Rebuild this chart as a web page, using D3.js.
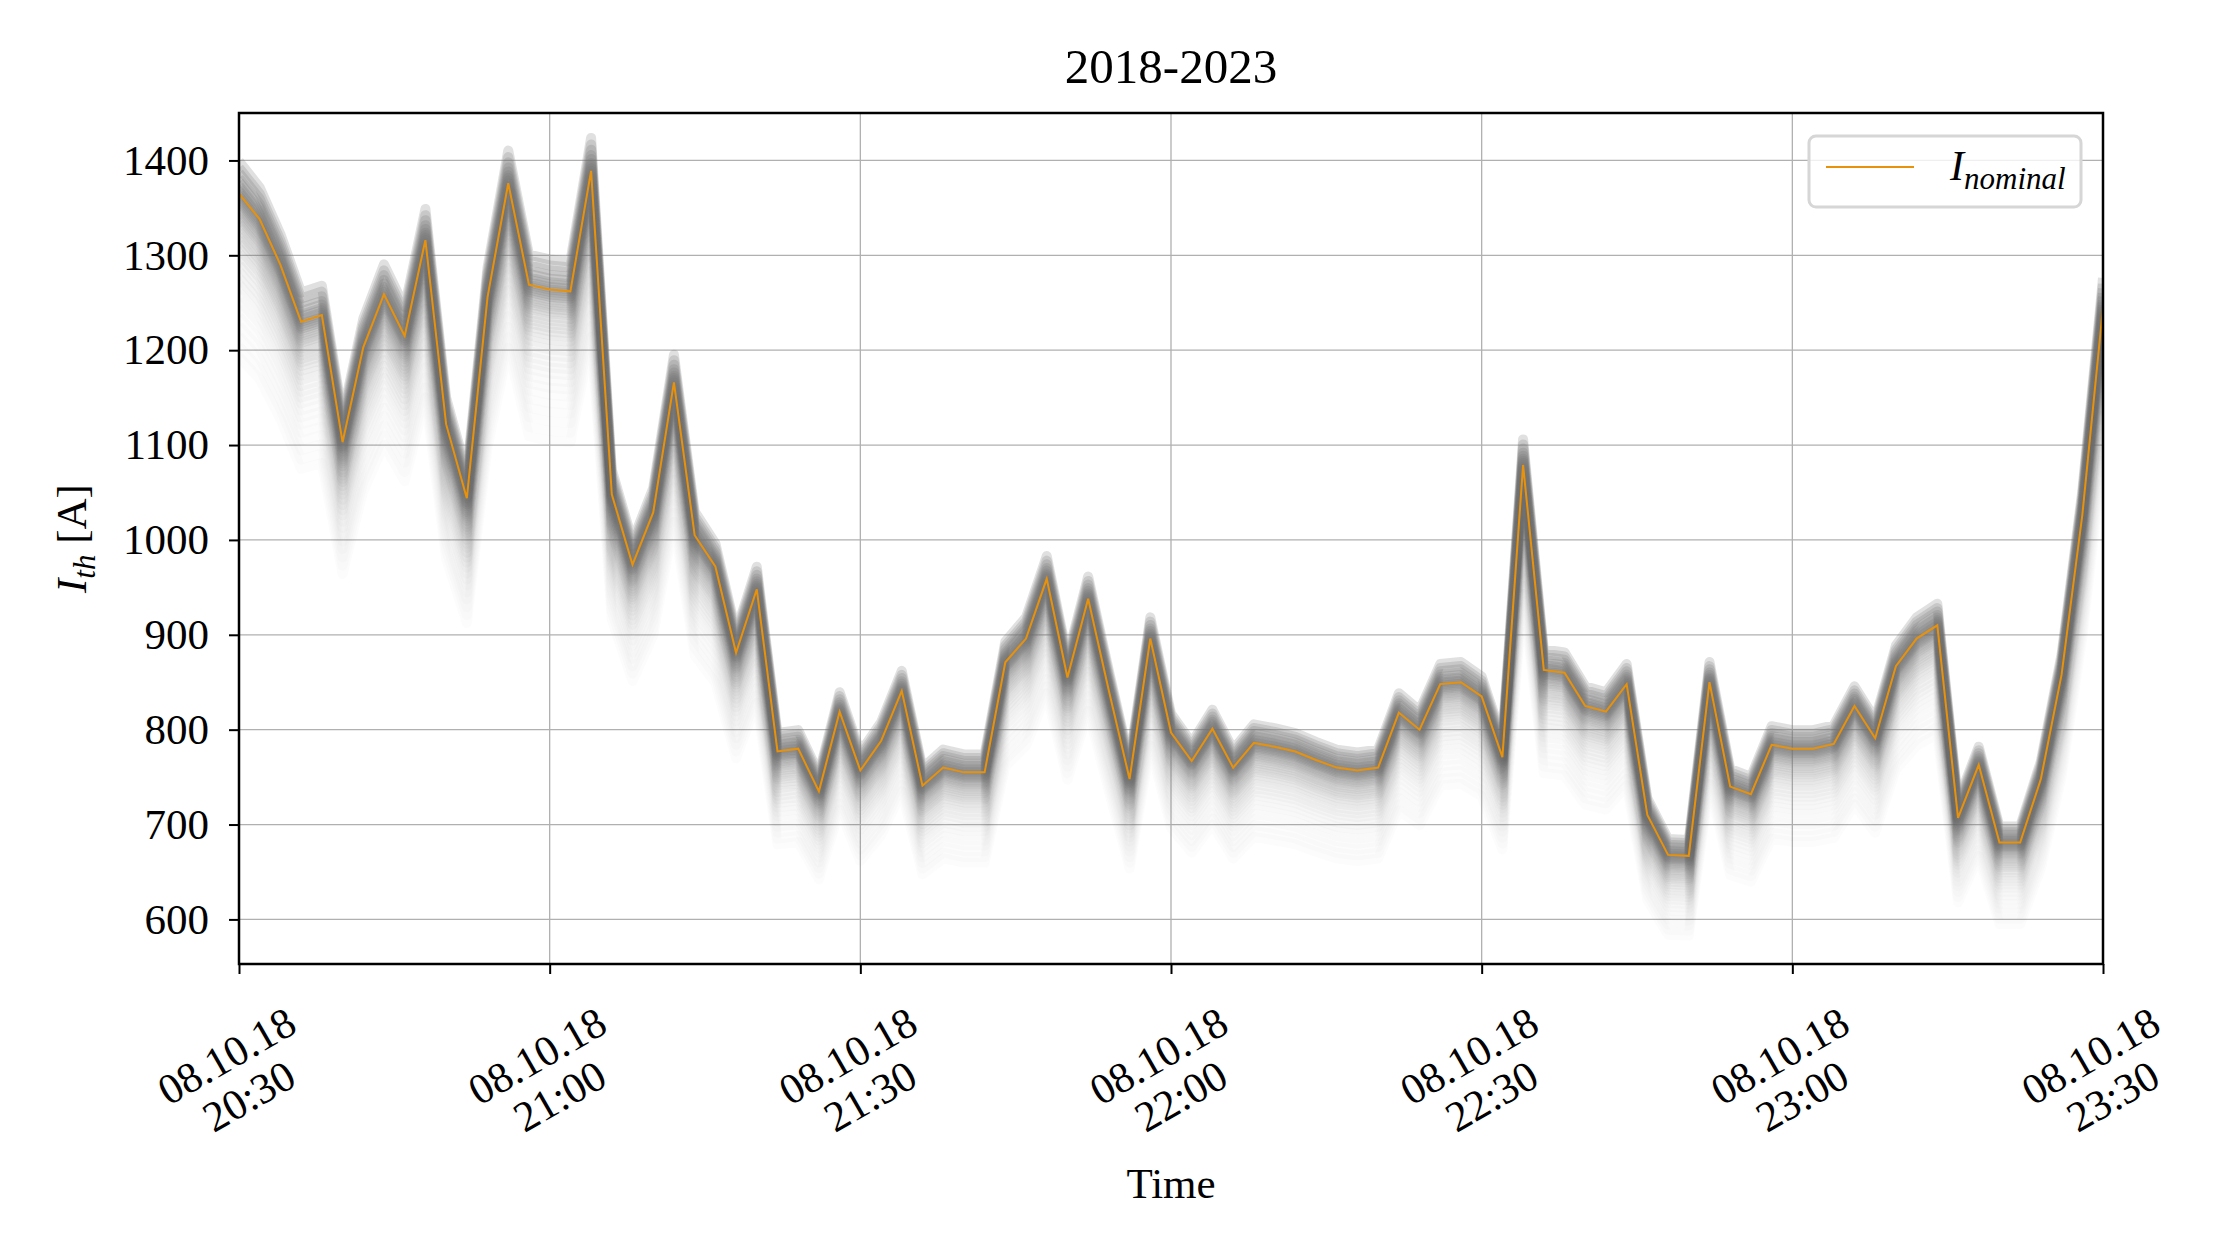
<!DOCTYPE html>
<html>
<head>
<meta charset="utf-8">
<script src="https://cdn.jsdelivr.net/npm/d3@7"></script>
<style>
  body { margin: 0; background: #fff; }
  text { font-family: "Liberation Serif", "DejaVu Serif", serif; }
</style>
</head>
<body>
<div id="chart"></div>
<script>
// nominal thermal current, one value every 2 minutes from 20:30 to 23:30
const nominal = [1365, 1338, 1290, 1230, 1237, 1103, 1203, 1259, 1215, 1316,
  1122, 1044, 1256, 1376, 1269, 1264, 1262, 1389, 1048, 974,
  1029, 1166, 1005, 972, 881, 948, 777, 780, 735, 819,
  757, 788, 841, 741, 760, 755, 755, 871, 896, 959,
  855, 938, 841, 748, 896, 797, 767, 801, 760, 786,
  782, 777, 768, 760, 757, 760, 818, 800, 848, 850,
  835, 771, 1079, 863, 860, 825, 819, 848, 710, 668,
  667, 850, 740, 732, 784, 780, 780, 785, 825, 791,
  867, 896, 910, 707, 763, 681, 681, 748, 858, 1026, 1245];
// relative level of each weather-year scenario compared to nominal
const scenarioScale = [1.025, 1.02, 1.016, 1.012, 1.009, 1.006, 1.004, 1.002, 1.0, 0.998,
  0.996, 0.994, 0.992, 0.99, 0.988, 0.986, 0.984, 0.982, 0.98, 0.977,
  0.974, 0.971, 0.968, 0.965, 0.962, 0.958, 0.954, 0.95, 0.945, 0.94,
  0.935, 0.93, 0.924, 0.918, 0.912, 0.905, 0.898, 0.89, 0.882, 0.874];
const xTicks = ["20:30", "21:00", "21:30", "22:00", "22:30", "23:00", "23:30"];
const tickDate = "08.10.18";

const W = 2240, H = 1260;
const margin = { top: 113, right: 2240 - 2103, bottom: 1260 - 964, left: 239 };
const width = W - margin.left - margin.right,
      height = H - margin.top - margin.bottom;
const FS = 43;

const parse = d3.timeParse("%H:%M");
const t0 = parse("20:30");
const times = nominal.map((d, i) => new Date(t0.getTime() + i * 2 * 60000));

const svgRoot = d3.select("#chart").append("svg")
  .attr("width", W).attr("height", H);
const svg = svgRoot.append("g")
  .attr("transform", `translate(${margin.left},${margin.top})`);

const x = d3.scaleTime().domain([t0, parse("23:30")]).range([0, width]);
const y = d3.scaleLinear().domain([553, 1450]).range([height, 0]);
const tickDates = xTicks.map(parse);
const yTicks = d3.range(600, 1401, 100);

// grid
svg.append("g").selectAll("line").data(yTicks)
  .join("line")
  .attr("x1", 0).attr("x2", width)
  .attr("y1", d => y(d)).attr("y2", d => y(d))
  .attr("stroke", "#b0b0b0").attr("stroke-width", 1.3);
svg.append("g").selectAll("line").data(tickDates)
  .join("line")
  .attr("x1", d => x(d)).attr("x2", d => x(d))
  .attr("y1", 0).attr("y2", height)
  .attr("stroke", "#b0b0b0").attr("stroke-width", 1.3);

const line = d3.line().x((d, i) => x(times[i])).y(d => y(d));

svg.append("defs").append("clipPath").attr("id", "clip")
  .append("rect").attr("width", width).attr("height", height);
const plot = svg.append("g").attr("clip-path", "url(#clip)");

// scenario band
plot.selectAll("path.scen").data(scenarioScale)
  .join("path")
  .attr("class", "scen")
  .attr("d", s => line(nominal.map(v => v * s)))
  .attr("fill", "none")
  .attr("stroke", "#707070")
  .attr("stroke-width", 10)
  .attr("stroke-linejoin", "round")
  .attr("opacity", (s, i) => i < 12 ? 0.22 : Math.max(0.02, 0.12 - (i - 12) * 0.0045));

plot.append("path")
  .attr("d", line(nominal))
  .attr("fill", "none")
  .attr("stroke", "#e8920b")
  .attr("stroke-width", 2);

// axes
const yAxis = svg.append("g")
  .call(d3.axisLeft(y).tickValues(yTicks).tickFormat(d3.format("d")).tickSize(10).tickPadding(20));
const xAxis = svg.append("g").attr("transform", `translate(0,${height})`)
  .call(d3.axisBottom(x).tickValues(tickDates).tickSize(10).tickFormat(""));
[yAxis, xAxis].forEach(a => {
  a.selectAll("line").attr("stroke", "#000").attr("stroke-width", 2);
  a.select(".domain").remove();
  a.selectAll("text").attr("font-size", FS).attr("font-family", "Liberation Serif").attr("fill", "#000");
});
svg.append("rect").attr("width", width).attr("height", height)
  .attr("fill", "none").attr("stroke", "#000").attr("stroke-width", 2.5);

// rotated x tick labels
tickDates.forEach((d, i) => {
  const g = svg.append("g")
    .attr("transform", `translate(${x(d) + 60},${height + 67}) rotate(-30)`);
  g.append("text").attr("text-anchor", "end").attr("font-size", FS)
    .text(tickDate);
  g.append("text").attr("text-anchor", "end").attr("font-size", FS)
    .attr("y", 46).attr("x", -27).text(xTicks[i]);
});

// titles
svgRoot.append("text").attr("x", margin.left + width / 2).attr("y", 83)
  .attr("text-anchor", "middle").attr("font-size", 49).text("2018-2023");
svgRoot.append("text").attr("x", margin.left + width / 2).attr("y", 1198)
  .attr("text-anchor", "middle").attr("font-size", FS).text("Time");
const yl = svgRoot.append("text")
  .attr("transform", `translate(86,${margin.top + height / 2}) rotate(-90)`)
  .attr("text-anchor", "middle").attr("font-size", FS);
yl.append("tspan").attr("font-style", "italic").text("I");
yl.append("tspan").attr("font-style", "italic").attr("font-size", 31).attr("dy", 9).text("th");
yl.append("tspan").attr("dy", -9).text(" [A]");

// legend
const lg = svg.append("g").attr("transform", `translate(${1809 - margin.left},${136 - margin.top})`);
lg.append("rect").attr("width", 272).attr("height", 71).attr("rx", 7)
  .attr("fill", "#fff").attr("fill-opacity", 0.8)
  .attr("stroke", "#d6d6d6").attr("stroke-width", 3);
lg.append("line").attr("x1", 17).attr("x2", 105).attr("y1", 31).attr("y2", 31)
  .attr("stroke", "#e8920b").attr("stroke-width", 2);
const lt = lg.append("text").attr("x", 141).attr("y", 44).attr("font-size", 42)
  .attr("font-style", "italic");
lt.append("tspan").text("I");
lt.append("tspan").attr("font-size", 31).attr("dy", 9).text("nominal");
</script>
</body>
</html>
